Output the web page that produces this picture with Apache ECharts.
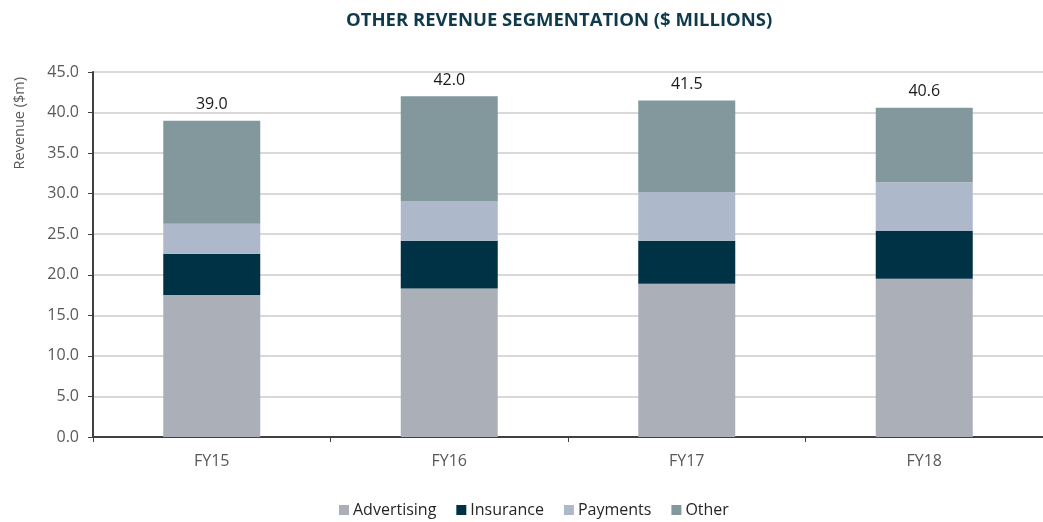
<!DOCTYPE html>
<html>
<head>
<meta charset="utf-8">
<script src="https://cdn.jsdelivr.net/npm/echarts@6/dist/echarts.min.js"></script>
<style>html,body{margin:0;padding:0;background:#fff;}#c{width:1043px;height:522px;}</style>
</head>
<body>
<div id="c"></div>
<script>
const categories = ['FY15', 'FY16', 'FY17', 'FY18'];
const advertising = [17.5, 18.3, 18.9, 19.5];
const insurance = [5.1, 5.9, 5.3, 5.9];
const payments = [3.7, 4.9, 6.0, 6.0];
const other = [12.7, 12.9, 11.3, 9.2];
const totals = [39.0, 42.0, 41.5, 40.6];
const yTicks = [0, 5, 10, 15, 20, 25, 30, 35, 40, 45];

const chart = echarts.init(document.getElementById('c'), null, {renderer: 'canvas'});
const font = '"Open Sans", "Noto Sans", sans-serif';
const mk = (name, data, color, extra) => Object.assign({
  name, type: 'bar', stack: 'total', data, barWidth: 97,
  itemStyle: {color},
  emphasis: {disabled: true}
}, extra || {});

chart.setOption({
  animation: false,
  textStyle: {fontFamily: font},
  title: {
    text: 'OTHER REVENUE SEGMENTATION ($ MILLIONS)',
    left: 341, top: 6,
    textStyle: {fontFamily: font, fontWeight: 'bold', fontSize: 18.5, color: '#0F3A4D'}
  },
  legend: {
    top: 497, left: 334, itemWidth: 10, itemHeight: 10, itemGap: 20,
    icon: 'rect',
    textStyle: {fontFamily: font, fontSize: 16, color: '#262626', padding: [0, 0, 0, -1]},
    data: ['Advertising', 'Insurance', 'Payments', 'Other']
  },
  grid: {left: 93, right: -7, top: 72, bottom: 85, containLabel: false},
  xAxis: {
    type: 'category', data: categories,
    axisLine: {lineStyle: {color: '#404040', width: 2}},
    axisTick: {show: true, length: 5, lineStyle: {color: '#404040', width: 1}},
    axisLabel: {fontFamily: font, fontSize: 16, color: '#595959', margin: 16}
  },
  yAxis: {
    type: 'value', min: yTicks[0], max: yTicks[yTicks.length - 1], interval: 5,
    name: 'Revenue ($m)', nameLocation: 'end', nameRotate: 90,
    nameGap: 0,
    nameTextStyle: {fontFamily: font, fontSize: 14.5, color: '#595959', align: 'right', verticalAlign: 'bottom', padding: [0, 5, 66, 0]},
    axisLine: {show: true, lineStyle: {color: '#404040', width: 2}},
    axisTick: {show: true, length: 5, lineStyle: {color: '#404040'}},
    axisLabel: {fontFamily: font, fontSize: 16, color: '#595959', margin: 14, formatter: v => v.toFixed(1)},
    splitLine: {lineStyle: {color: '#D9D9D9', width: 2}}
  },
  series: [
    mk('Advertising', advertising, '#ABAFB7'),
    mk('Insurance', insurance, '#003246'),
    mk('Payments', payments, '#ADB8CA'),
    mk('Other', other, '#82989D', {
      label: {
        show: true, position: 'top', distance: 8,
        fontFamily: font, fontSize: 16, color: '#1a1a1a',
        formatter: p => totals[p.dataIndex].toFixed(1)
      }
    })
  ]
});
</script>
</body>
</html>
